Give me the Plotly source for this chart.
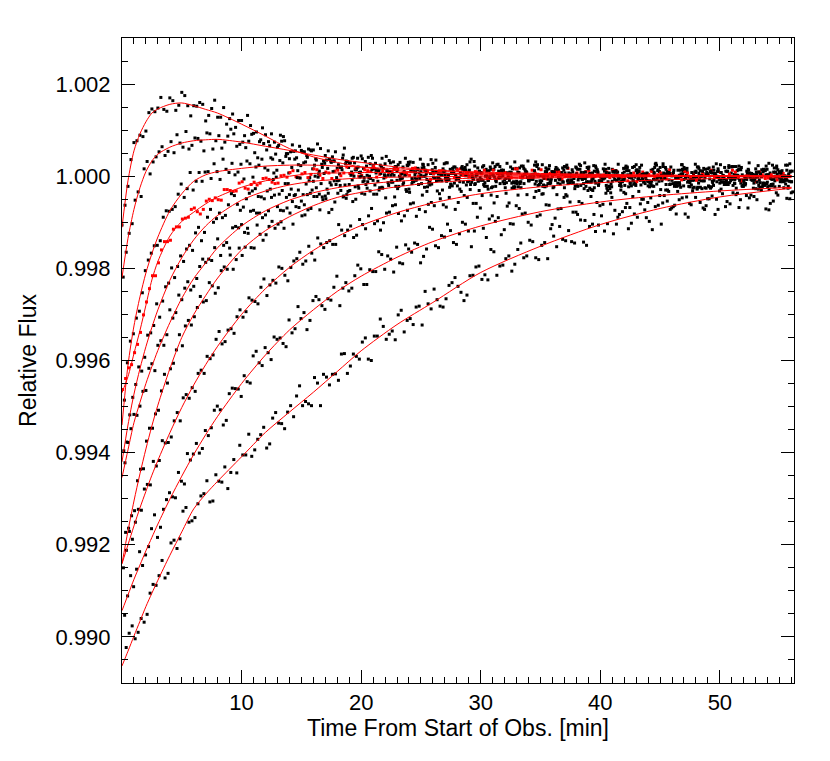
import numpy as np
import plotly.graph_objects as go

# Flux values are stored as (relative flux - 1) in units of 1e-5
SCALE = 1e-5

# each light curve is sampled every 0.5 min in two interleaved sets
cadence = 0.5
t_start = [0.0, 0.1, 0.2, 0.05, 0.15, 0.25, 0.3, 0.12, 0.22, 0.35]
t_start_b = [0.25, 0.35, 0.45, 0.3, 0.4, 0.5, 0.55, 0.37, 0.47, 0.6]

obs_1 = [-106,-22,73,89,98,146,148,145,170,143,182,153,153,160,120,147,128,149,125,106,
         121,132,93,75,90,92,63,86,38,55,56,41,57,11,45,30,17,46,28,14,
         44,2,23,13,27,2,-9,20,26,3,10,-7,28,-2,11,-18,16,5,0,22,
         -9,11,29,-4,-16,5,16,1,-8,24,-14,9,0,13,-25,5,18,-7,-12,11,
         2,-20,15,-5,9,-14,25,-3,-11,6,19,-18,2,13,-7,-23,8,0,16,-9,
         -15,11,20,-4,-12,5,-27,14,3,-6,10,-17]
obs_2 = [-219,-124,-52,-44,32,31,53,45,75,90,63,59,83,76,94,59,88,74,102,65,
         74,76,51,79,57,37,67,77,53,40,53,59,24,60,35,42,25,61,29,14,
         38,41,16,24,43,7,25,10,31,-9,18,25,7,-7,29,8,-3,16,31,0,
         7,-9,15,21,-5,-15,9,17,-1,31,-10,1,9,-7,20,-2,15,-16,5,22,
         -7,0,9,-12,18,-21,5,1,-10,26,-5,10,-16,2,15,-7,-26,6,18,-3,
         -12,10,-20,22,-1,-7,5,-15,28,-10,2,13]
obs_3 = [-486,-358,-308,-253,-182,-151,-140,-75,-72,-39,-46,8,-11,-11,10,27,-7,15,28,9,
         -6,27,20,37,13,7,34,43,19,12,29,-3,38,26,17,33,5,27,9,39,
         17,0,28,20,11,31,0,39,11,15,25,-11,19,4,29,11,-3,19,37,4,
         -9,12,21,-2,28,-14,8,14,2,21,-22,16,4,-8,24,9,-3,29,-13,10,
         1,17,-7,-17,12,19,-3,5,-12,24,-6,7,-22,13,2,-2,20,-10,10,27,
         -6,-18,4,15,0,-9,23,-15,7,-2,12,-26]
obs_4 = [-463,-416,-383,-339,-273,-216,-188,-142,-139,-110,-93,-89,-69,-82,-54,-53,-51,-29,-31,-32,
         -12,-28,-13,-15,-4,-13,-15,2,8,-1,5,-3,16,2,9,-5,13,7,6,17,
         2,12,21,4,-2,10,15,7,2,18,-1,11,6,12,-7,8,14,2,-1,10,
         5,-5,13,3,8,-3,16,2,-2,7,14,-6,4,9,-1,-9,7,3,11,-1,
         -5,9,13,0,-4,4,-12,9,4,-1,7,-6,4,-5,10,-1,-9,5,2,-3,
         8,-7,13,-1,0,6,-12,3,-4,8,0,-7]
obs_5 = [-596,-518,-452,-423,-345,-324,-306,-240,-199,-196,-185,-150,-123,-140,-89,-100,-80,-85,-38,-61,
         -67,-37,-27,-45,-32,-7,-39,-16,-28,-3,-40,-10,0,-16,-28,10,-9,-19,2,18,
         -12,-4,-19,6,12,-13,-22,2,11,-6,26,-15,-4,5,-11,17,-5,12,-18,3,
         20,-9,-2,7,-14,16,-23,4,0,-11,25,-6,9,-17,1,14,-8,-27,6,18,
         -3,-12,10,-20,22,-1,-7,5,-15,28,-10,2,13,-19,-4,8,-24,17,-6,3,
         -13,11,21,-9,-16,6,-2,15,-21,9,-5,24]
obs_6 = [-622,-548,-519,-467,-417,-422,-357,-344,-308,-258,-243,-247,-222,-180,-180,-155,-172,-144,-112,-112,
         -122,-76,-80,-90,-75,-41,-74,-46,-55,-30,-62,-37,-25,-45,-37,-10,-20,-48,-8,-21,
         -10,-32,7,-24,-14,2,-8,-29,-16,17,0,-19,11,-10,-5,6,-28,1,-13,18,
         -18,-1,-9,13,7,-23,-13,11,-5,4,-19,23,-9,3,18,-14,-3,9,-29,14,
         -6,7,1,-22,20,-10,12,3,-18,-6,27,8,-14,-1,17,-9,6,-25,11,0,
         -4,23,-16,14,-7,2,9,-20,-3,18,-12,5]
obs_7 = [-773,-737,-661,-635,-547,-516,-466,-449,-406,-344,-325,-323,-285,-273,-231,-254,-205,-202,-202,-156,
         -154,-155,-106,-139,-109,-113,-99,-69,-104,-68,-84,-70,-44,-51,-79,-56,-31,-40,-55,-26,
         -39,-5,-39,-26,-20,-45,-4,-33,-10,-18,-24,6,-10,-30,1,-15,8,-19,-2,-11,
         -21,20,-12,6,-2,-26,-16,10,4,-20,-4,-12,19,4,-16,-5,15,-22,-8,9,
         1,-27,12,-11,3,-17,19,-2,-11,12,7,-18,-5,25,-13,1,-8,15,-23,10,
         1,-14,-3,19,7,-26,-8,12,-18,4,0,-11]
obs_8 = [-850,-771,-751,-725,-669,-619,-617,-579,-566,-513,-481,-482,-467,-421,-391,-388,-337,-359,-331,-305,
         -306,-264,-272,-241,-259,-226,-197,-215,-198,-179,-191,-152,-182,-147,-144,-148,-105,-129,-108,-128,
         -105,-86,-103,-117,-80,-64,-81,-86,-60,-87,-41,-61,-64,-49,-67,-21,-57,-42,-29,-59,
         -42,-28,-58,-16,-37,-26,-41,-16,-4,-33,-39,-16,-23,-5,-40,-9,-22,8,-26,-15,
         -10,-31,-1,-20,-38,-4,9,-13,-23,-8,2,-30,8,-14,-5,-19,20,-10,-23,3,
         8,-15,-6,15,-19,1,-13,10,-29,0,8,-9]
obs_9 = [-953,-867,-853,-845,-804,-735,-762,-702,-696,-643,-668,-616,-580,-591,-563,-508,-507,-530,-460,-462,
         -433,-449,-380,-411,-383,-349,-351,-370,-340,-283,-296,-313,-261,-281,-266,-241,-281,-231,-243,-193,
         -235,-203,-207,-170,-173,-208,-188,-149,-165,-148,-174,-111,-151,-129,-104,-144,-125,-104,-153,-89,
         -113,-93,-98,-127,-65,-104,-70,-80,-106,-87,-38,-63,-91,-70,-43,-78,-55,-96,-44,-57,
         -61,-22,-74,-30,-59,-44,-33,-73,-47,-17,-58,-33,-63,-24,-45,-32,-15,-72,-26,-50,
         -38,-3,-15,-51,-42,-6,-28,-16,-59,-36,-8,-22]
obs_10 = [-1023,-976,-990,-968,-905,-888,-834,-862,-790,-787,-719,-748,-711,-689,-707,-648,-664,-678,-615,-584,
          -605,-608,-571,-545,-581,-513,-537,-512,-522,-455,-489,-498,-449,-430,-453,-429,-386,-428,-386,-397,
          -351,-400,-347,-326,-343,-355,-291,-313,-322,-282,-250,-288,-268,-284,-237,-220,-252,-258,-215,-195,
          -214,-159,-215,-193,-173,-191,-145,-173,-142,-181,-144,-114,-153,-137,-118,-145,-95,-150,-104,-106,
          -119,-60,-104,-77,-114,-82,-60,-90,-116,-63,-42,-72,-82,-47,-89,-24,-57,-64,-43,-72,
          -5,-60,-40,-21,-69,-44,-24,-71,-7,-41,-25,-49]

obs_1b = [-63,36,77,86,138,140,171,141,164,154,175,131,152,156,132,165,128,113,135,121,
          88,110,96,105,75,74,89,49,68,25,53,57,35,19,55,33,19,33,39,20,
          -3,27,13,39,2,16,30,3,-5,15,19,-12,35,2,4,20,-12,13,5,-8,
          23,-4,-22,13,7,-12,18,4,-7,25,-1,-16,14,8,-10,1,26,-5,-12,10,
          16,-22,3,-4,18,-10,6,-16,13,-1,21,-8,-19,5,10,-26,17,-3,8,-12,
          2,19,-7,-15,11,4,-20,14,-5,22,-9,0]
obs_2b = [-165,-103,-34,16,5,42,64,54,51,72,97,67,82,55,92,77,61,87,92,69,
          62,91,40,71,66,48,76,49,54,65,31,55,70,33,37,53,20,32,41,8,
          32,45,14,17,34,21,-5,24,30,7,0,36,10,16,-7,20,4,25,-5,9,
          -14,15,25,1,-4,31,-12,8,-4,16,2,-15,10,18,-8,-1,23,-12,7,-20,
          11,2,10,-12,-1,21,-9,3,-21,14,-5,6,-16,25,0,-8,12,-26,7,16,
          -12,-4,21,-8,0,-15,9,3,-19,14,-11,27]
obs_3b = [-405,-342,-293,-205,-167,-150,-89,-76,-66,-17,-27,-30,8,9,-5,10,37,8,3,26,
          33,-2,24,18,40,13,29,7,37,23,45,16,5,28,33,-3,39,19,29,9,
          22,39,12,3,29,21,-4,30,10,37,5,14,5,27,15,-7,21,9,32,-3,
          15,4,26,-16,9,17,-4,33,0,-10,18,10,-15,13,5,20,-4,2,23,-10,
          15,-23,9,17,-3,-15,24,5,-7,10,19,1,-21,11,-2,26,-10,5,20,-7,
          -14,7,12,-19,29,-4,-1,15,-17,8,1,-12]
obs_4b = [-439,-409,-365,-301,-244,-216,-160,-142,-115,-110,-91,-72,-77,-72,-50,-47,-52,-29,-33,-15,
          -26,-18,-19,-5,-7,-16,1,-2,12,-3,8,4,14,-5,7,11,1,20,4,0,
          14,10,-2,12,8,16,4,5,17,0,13,-7,9,12,3,-3,16,7,0,9,
          13,5,-7,8,2,16,-2,6,13,0,-5,6,9,-7,17,1,2,10,-5,7,
          3,-3,12,-2,-10,7,4,-5,10,3,-2,14,0,-8,7,5,-5,1,13,-2,
          -5,5,9,-10,2,-2,9,-5,3,-8,6,0]
obs_5b = [-577,-480,-414,-393,-340,-277,-271,-232,-220,-173,-158,-161,-111,-122,-72,-92,-90,-62,-42,-74,
          -49,-32,-44,-49,-28,-2,-31,-16,-42,-4,-17,-30,-2,6,-14,-18,14,-33,0,-2,
          -18,14,-11,-4,10,-22,5,23,-12,-5,13,-17,-3,8,-24,2,18,-12,-7,11,
          0,-25,6,13,-9,-15,22,-3,4,-18,10,-6,16,-13,1,-21,8,19,-5,-10,
          26,-17,3,-8,12,-2,-19,7,15,-11,-4,20,-14,5,-22,9,0,8,-14,-3,
          19,-10,2,-22,13,-6,5,-17,24,-1,-9,11]
obs_6b = [-578,-517,-499,-465,-407,-367,-367,-290,-296,-268,-229,-239,-196,-187,-183,-136,-150,-156,-109,-105,
          -113,-74,-80,-84,-46,-66,-75,-40,-40,-54,-40,-11,-39,-43,-19,-10,-45,-18,-23,0,
          -26,-9,-30,0,-13,10,-18,-28,-4,2,-33,10,-9,3,-17,-2,15,-11,-18,8,
          1,-23,11,-8,20,-11,-2,-10,12,1,-21,9,-3,21,-14,5,-6,16,-25,0,
          8,-11,26,-7,-16,12,4,-21,8,0,15,-9,-3,19,-14,11,-27,5,13,-6,
          -18,21,2,-10,7,16,-1,-23,9,-4,24,-12]
obs_7b = [-764,-726,-636,-575,-547,-508,-430,-418,-377,-368,-313,-305,-261,-270,-238,-242,-197,-171,-181,-172,
          -124,-156,-126,-127,-98,-104,-113,-80,-66,-86,-73,-44,-73,-49,-72,-37,-43,-31,-50,-37,
          -12,-39,-25,-47,-10,-27,-14,-35,8,-16,-23,-2,-38,-4,6,-21,-13,13,-16,-7,
          -22,2,-3,-25,8,-16,22,-10,-17,2,14,-25,-6,7,-10,-19,-2,20,-11,2,
          -26,10,-5,-20,6,14,-7,-12,19,-29,4,1,-15,16,-9,-2,11,-21,6,25,
          -10,-4,14,-16,-2,9,-23,3,18,-12,-7,11]
obs_8b = [-812,-788,-723,-679,-670,-629,-574,-578,-531,-531,-474,-459,-428,-428,-396,-354,-364,-334,-341,-290,
          -294,-269,-277,-223,-236,-232,-200,-227,-184,-165,-184,-167,-134,-155,-140,-148,-117,-117,-133,-94,
          -114,-70,-97,-101,-78,-62,-97,-74,-58,-72,-77,-57,-32,-62,-46,-72,-33,-46,-59,-31,
          -22,-41,-44,-12,-58,-23,-25,-40,-7,-31,-23,-9,-40,-12,7,-27,-20,-1,-31,-16,
          -4,-36,-9,6,-23,-17,1,-9,-34,-2,5,-17,-22,15,-10,-2,-24,4,-11,11,
          -18,-4,-26,3,15,-9,-14,22,-21,0,-11,9]
obs_9b = [-911,-891,-815,-822,-765,-784,-723,-687,-698,-662,-602,-603,-601,-552,-546,-499,-540,-472,-461,-478,
          -446,-390,-405,-372,-398,-354,-363,-312,-331,-309,-333,-270,-268,-289,-269,-217,-243,-249,-216,-201,
          -235,-207,-164,-202,-180,-154,-190,-158,-145,-188,-158,-115,-155,-132,-118,-148,-100,-119,-119,-69,
          -133,-86,-90,-116,-103,-64,-82,-100,-46,-84,-62,-105,-71,-46,-56,-78,-59,-31,-83,-64,
          -37,-46,-89,-35,-68,-20,-50,-57,-22,-42,-30,-69,-33,-21,-59,-46,1,-49,-20,-32,
          -66,-7,-37,-22,-47,3,-31,-13,-54,-22,-6,-36]
obs_10b = [-992,-1004,-960,-951,-886,-867,-872,-796,-808,-727,-751,-741,-694,-661,-705,-662,-631,-643,-644,-605,
           -560,-594,-561,-590,-525,-536,-548,-498,-477,-498,-494,-437,-498,-436,-430,-443,-385,-412,-391,-360,
           -397,-347,-310,-354,-336,-301,-338,-309,-284,-323,-277,-245,-282,-266,-231,-239,-270,-216,-197,-224,
           -225,-164,-195,-179,-206,-159,-177,-139,-177,-150,-179,-130,-109,-140,-142,-83,-143,-109,-120,-86,
           -103,-125,-83,-68,-102,-89,-50,-98,-66,-104,-54,-66,-51,-82,-62,-28,-69,-49,-83,-28,
           -55,-36,-68,-5,-41,-51,-20,-73,-23,-7,-48,-34]

# model fits
fit_t = [0, 0.5, 1, 1.5, 2, 2.5, 3, 4, 5, 6, 7, 8, 10, 12, 14, 16, 18, 20, 23, 26, 30, 35, 40, 45, 50, 56]
fit_1 = [-111,-10,55,92,118,137,146,156,159,153,145,137,113,87,60,42,30,20,12,7,3,2,1,1,0,0]
fit_2 = [-220,-135,-72,-25,10,33,48,63,72,77,79,80,74,65,56,46,37,30,20,13,7,4,2,1,0,0]
fit_3 = [-540,-410,-325,-262,-210,-168,-132,-75,-38,-11,3,10,17,22,24,24,22,20,16,13,9,6,4,2,1,0]
fit_4 = [-470,-435,-385,-335,-280,-225,-185,-130,-98,-78,-60,-45,-24,-10,0,6,7,8,8,7,5,4,3,2,1,0]
fit_5 = [-620,-540,-473,-418,-370,-328,-290,-226,-177,-138,-108,-85,-52,-32,-19,-11,-7,-4,-2,-1,0,0,0,0,0,0]
fit_6 = [-654,-594,-535,-491,-450,-413,-378,-318,-265,-222,-188,-155,-108,-75,-52,-36,-25,-18,-11,-7,-4,-2,-1,0,0,0]
fit_7 = [-841,-770,-705,-646,-592,-542,-497,-418,-350,-300,-259,-221,-160,-118,-88,-64,-46,-35,-23,-14,-8,-4,-2,-1,0,0]
fit_8 = [-841,-800,-759,-720,-684,-649,-617,-557,-502,-453,-409,-369,-300,-244,-198,-161,-131,-107,-79,-58,-38,-23,-14,-8,-5,-3]
fit_9 = [-943,-909,-875,-844,-813,-784,-755,-701,-651,-604,-561,-521,-450,-388,-334,-290,-250,-217,-176,-142,-108,-77,-56,-42,-32,-24]
fit_10 = [-1063,-1031,-998,-966,-934,-905,-877,-823,-772,-722,-690,-662,-609,-556,-512,-469,-424,-379,-322,-274,-209,-152,-105,-70,-45,-26]

observations = [obs_1, obs_2, obs_3, obs_4, obs_5, obs_6, obs_7, obs_8, obs_9, obs_10]
observations_b = [obs_1b, obs_2b, obs_3b, obs_4b, obs_5b, obs_6b, obs_7b, obs_8b, obs_9b, obs_10b]
fits = [fit_1, fit_2, fit_3, fit_4, fit_5, fit_6, fit_7, fit_8, fit_9, fit_10]
red_curve = 3  # the fourth light curve is plotted in red

FONT = "Liberation Sans, Arial, Helvetica, sans-serif"

fig = go.Figure()

for k in range(len(observations)):
    t = np.concatenate([t_start[k] + cadence * np.arange(len(observations[k])),
                        t_start_b[k] + cadence * np.arange(len(observations_b[k]))])
    y = 1 + np.array(observations[k] + observations_b[k]) * SCALE
    fig.add_trace(go.Scatter(
        x=t, y=y, mode="markers",
        marker=dict(symbol="square", size=3, color="red" if k == red_curve else "black",
                    line=dict(width=0)),
        showlegend=False, hoverinfo="skip",
    ))

for fit in fits:
    fig.add_trace(go.Scatter(
        x=fit_t, y=1 + np.array(fit) * SCALE, mode="lines",
        line=dict(color="red", width=1, shape="spline", smoothing=0.8),
        showlegend=False, hoverinfo="skip",
    ))

axis_common = dict(
    showline=True, linecolor="black", linewidth=1, mirror="ticks",
    ticks="inside", ticklen=13, tickwidth=1, tickcolor="black",
    showgrid=False, zeroline=False,
    tickfont=dict(family=FONT, size=22, color="black"),
)

# the page body adds an 8 px margin, so the figure is 8 px smaller than the window
fig.update_layout(
    width=822, height=753,
    paper_bgcolor="white", plot_bgcolor="white",
    margin=dict(l=114, r=36, t=30, b=78),
    font=dict(family=FONT, color="black"),
    xaxis=dict(
        **axis_common,
        range=[0, 56.2],
        tickmode="array", tickvals=[10, 20, 30, 40, 50],
        minor=dict(ticks="inside", ticklen=6, tick0=0, dtick=1, tickcolor="black"),
        title=dict(text="Time From Start of Obs. [min]", font=dict(family=FONT, size=23), standoff=5),
    ),
    yaxis=dict(
        **axis_common,
        range=[0.989, 1.003],
        tickmode="array",
        tickvals=[0.990, 0.992, 0.994, 0.996, 0.998, 1.000, 1.002],
        ticktext=["0.990", "0.992", "0.994", "0.996", "0.998", "1.000", "1.002"],
        ticklabelstandoff=6,
        minor=dict(ticks="inside", ticklen=6, tick0=0.99, dtick=0.0005, tickcolor="black"),
        title=dict(text="Relative Flux", font=dict(family=FONT, size=23), standoff=12),
    ),
)

fig.write_html("out.html")
